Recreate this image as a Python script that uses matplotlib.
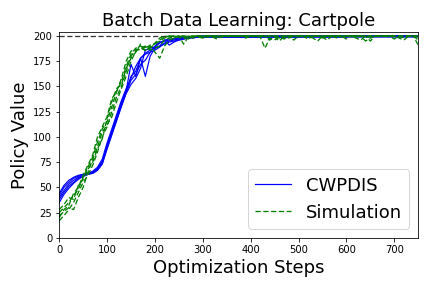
import numpy as np
import matplotlib
matplotlib.use("Agg")
import matplotlib.pyplot as plt

x_early = list(range(0, 301, 10))
x_late = list(range(310, 751, 10))

blue_early = [
    [44,52,57,60,62,63,64,66,70,78,94,108,122,136,148,158,170,178,183,186,188,190,192,194,195,196,197,198,198,199,199],
    [42,50,55,59,61,63,64,65,69,76,92,106,120,134,146,172,160,178,182,184,186,189,193,195,196,197,198,198,199,199,199],
    [40,47,53,57,60,62,64,65,68,74,90,104,118,132,145,160,165,178,160,180,188,190,196,191,194,196,197,198,199,199,199],
    [38,45,51,55,59,61,63,64,67,73,88,102,116,130,144,156,162,172,176,184,190,194,195,196,197,198,198,199,199,199,200],
    [35,43,49,54,58,61,63,64,67,74,89,103,117,131,143,152,158,168,186,188,189,193,196,197,197,198,199,199,199,200,200],
]
blue_late = [
    [199]*45,
    [199]*20 + [200]*25,
    [200]*45,
    [199]*30 + [200]*15,
    [200]*45,
]

green_early = [
    [17,22,28,35,45,55,62,72,85,100,110,125,140,150,165,180,186,188,190,186,188,190,196,198,199,200,199,200,198,200,199],
    [22,26,30,28,40,50,65,78,90,105,112,120,135,148,160,175,185,188,186,190,184,178,190,196,198,200,192,199,200,199,198],
    [25,30,35,42,48,60,70,80,95,108,115,130,145,155,170,182,188,190,188,191,192,196,199,200,198,200,200,197,200,200,199],
    [28,33,40,38,52,58,68,75,88,98,118,135,148,152,168,178,184,192,185,189,193,198,200,199,200,199,200,200,199,200,200],
    [20,28,32,44,50,62,72,82,100,110,120,138,145,158,175,185,187,186,189,188,192,195,198,200,200,199,197,200,200,199,200],
]
green_late = [
    [200,199,197,200,200,200,200,200,200,200,200,199,188,198,196,199,197,200,200,200,199,200,198,195,200,200,200,200,199,200,200,198,196,200,200,200,200,200,199,200,200,198,200,200,196],
    [199,200,200,200,200,200,199,200,200,200,200,200,200,196,199,195,200,200,196,200,200,200,200,200,199,196,200,200,200,197,200,200,200,195,198,200,200,200,200,197,200,200,200,199,200],
    [200,200,200,199,200,200,200,200,200,200,199,200,199,200,200,200,200,198,200,200,200,197,200,200,200,200,200,198,200,200,200,200,200,200,195,200,199,200,200,200,198,196,200,200,191],
    [200,200,200,200,199,200,200,200,200,200,200,200,200,200,200,200,199,200,200,200,200,200,200,200,200,200,200,200,200,200,199,200,200,200,200,200,200,200,200,200,200,200,200,200,200],
    [200,200,199,200,200,200,200,200,198,200,200,200,200,200,200,198,200,200,200,199,200,200,200,200,198,200,200,200,200,200,200,200,200,198,200,200,200,200,200,200,199,200,200,200,199],
]
optimal_value = 200

fig = plt.figure(figsize=(6, 4), dpi=72)
ax = fig.add_subplot(111)
fig.subplots_adjust(left=0.137, right=0.968, top=0.889, bottom=0.174)

xs = x_early + x_late
ax.plot([0, 750], [optimal_value, optimal_value], color='k', linestyle='--',
        dashes=(4, 2), lw=1.3, alpha=0.8)
for i in range(len(blue_early)):
    ax.plot(xs, blue_early[i] + blue_late[i], color='b', linestyle='-', lw=1.2,
            label='CWPDIS' if i == 0 else None)
for i in range(len(green_early)):
    ax.plot(xs, green_early[i] + green_late[i], color='g', linestyle='--',
            dashes=(4, 2), lw=1.3,
            label='Simulation' if i == 0 else None)

ax.set_xlim(0, 750)
ax.set_ylim(0, 204)
ax.set_title('Batch Data Learning: Cartpole', fontsize=18)
ax.set_xlabel('Optimization Steps', fontsize=18)
ax.set_ylabel('Policy Value', fontsize=18)
ax.legend(loc='lower right', fontsize=18)
fig.savefig('out.png', dpi=72)
